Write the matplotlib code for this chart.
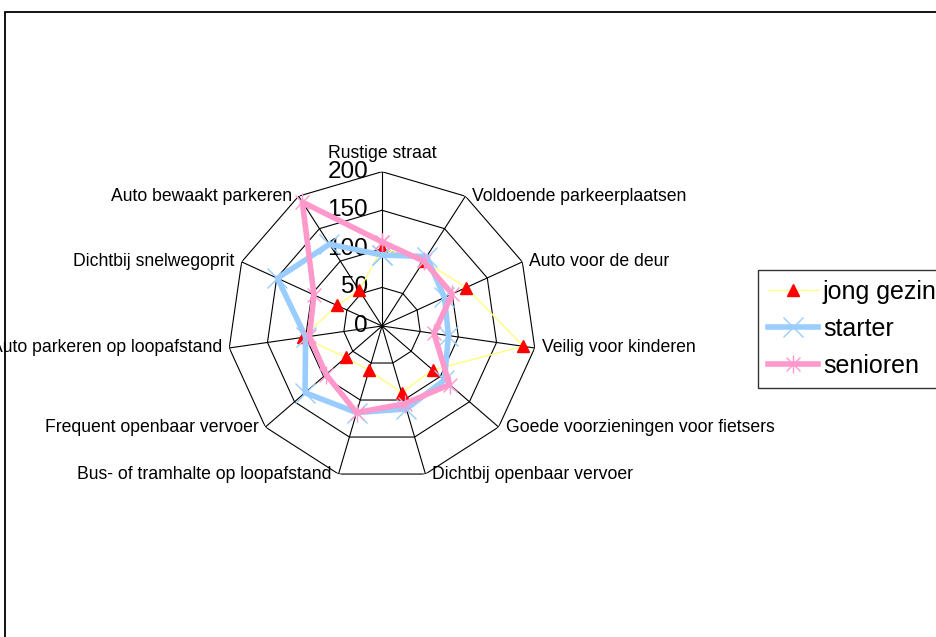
import numpy as np
import matplotlib
matplotlib.use("Agg")
import matplotlib.pyplot as plt
from matplotlib.path import Path
from matplotlib.patches import Rectangle

plt.rcParams["font.family"] = ["Liberation Sans", "DejaVu Sans"]

# data
categories = ["Rustige straat", "Voldoende parkeerplaatsen", "Auto voor de deur",
              "Veilig voor kinderen", "Goede voorzieningen voor fietsers",
              "Dichtbij openbaar vervoer", "Bus- of tramhalte op loopafstand",
              "Frequent openbaar vervoer", "Auto parkeren op loopafstand",
              "Dichtbij snelwegoprit", "Auto bewaakt parkeren"]
jong_gezin = [100, 100, 120, 185, 87, 90, 60, 62, 104, 64, 55]
starter = [92, 107, 89, 87, 107, 112, 117, 132, 100, 149, 126]
senioren = [109, 100, 100, 68, 116, 105, 117, 96, 95, 97, 191]
rings = [0, 50, 100, 150, 200]

n = len(categories)
theta = np.arange(n) * 2 * np.pi / n
th_closed = np.append(theta, theta[0])

def closed(v):
    return np.append(v, v[0])

# Excel style asterisk: x plus vertical bar
star = Path([(-1, -1), (1, 1), (-1, 1), (1, -1), (0, -1.3), (0, 1.3)],
            [Path.MOVETO, Path.LINETO, Path.MOVETO, Path.LINETO, Path.MOVETO, Path.LINETO])

W, H = 937, 637
fig = plt.figure(figsize=(W / 100, H / 100), dpi=100)

cx, cy, R = 382, 326, 154.3
ax = fig.add_axes([(cx - R) / W, (H - cy - R) / H, 2 * R / W, 2 * R / H], projection="polar")
ax.set_theta_zero_location("N")
ax.set_theta_direction(-1)
ax.set_ylim(0, 200)
ax.grid(False)
ax.set_xticks([])
ax.set_yticks([])
ax.spines["polar"].set_visible(False)
ax.patch.set_visible(False)

# grid polygons and spokes
for r in rings[1:]:
    ax.plot(th_closed, [r] * (n + 1), color="black", lw=0.8, zorder=1)
for t in theta:
    ax.plot([t, t], [0, 200], color="black", lw=0.8, zorder=1)

# radial labels
for r in rings:
    ax.annotate(str(r), (0, r), xytext=(-10, 0), textcoords="offset points",
                ha="right", va="center", fontsize=17.5, zorder=2)

# category labels
for t, lab in zip(theta, categories):
    s = np.sin(t)
    if abs(s) < 0.1:
        ha, off = "center", (0, 13)
    elif s > 0:
        ha, off = "left", (5, 0)
    else:
        ha, off = "right", (-5, 0)
    ax.annotate(lab, (t, 200), xytext=off, textcoords="offset points",
                ha=ha, va="center", fontsize=12.7, annotation_clip=False)

ax.plot(th_closed, closed(jong_gezin), color="#FFFF80", lw=1, marker="^",
        markersize=8, markerfacecolor="red", markeredgecolor="red",
        label="jong gezin", zorder=3, clip_on=False)
ax.plot(th_closed, closed(starter), color="#99CCFF", lw=4, marker="x",
        markersize=14, markeredgewidth=1, markeredgecolor="#99CCFF",
        label="starter", zorder=4, clip_on=False)
ax.plot(th_closed, closed(senioren), color="#FF99CC", lw=4, marker=star,
        markersize=13, markeredgewidth=1, markeredgecolor="#FF99CC",
        label="senioren", zorder=5, clip_on=False)

leg = fig.legend(loc="upper left", bbox_to_anchor=(758 / W, 1 - 270 / H),
                 fontsize=18, frameon=True, fancybox=False, edgecolor="black",
                 handlelength=2.0, handletextpad=0.2, labelspacing=0.52,
                 borderpad=0.4, borderaxespad=0)
leg.get_frame().set_linewidth(1)

# outer chart frame
fig.add_artist(Rectangle((5 / W, -0.1), 1.2, 1 - 12 / H + 0.1, transform=fig.transFigure,
                         fill=False, edgecolor="black", lw=1.3, zorder=10))

fig.savefig("out.png", dpi=100)
